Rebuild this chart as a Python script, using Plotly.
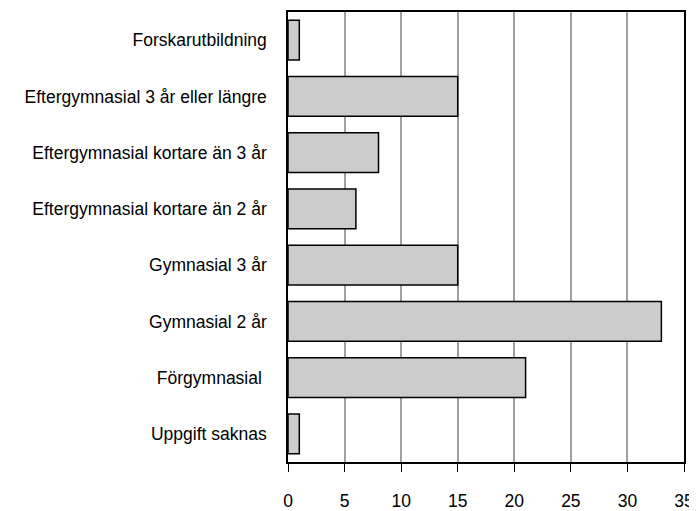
import plotly.graph_objects as go

categories = [
    "Forskarutbildning",
    "Eftergymnasial 3 år eller längre",
    "Eftergymnasial kortare än 3 år",
    "Eftergymnasial kortare än 2 år",
    "Gymnasial 3 år",
    "Gymnasial 2 år",
    "Förgymnasial ",
    "Uppgift saknas",
]
values = [1, 15, 8, 6, 15, 33, 21, 1]
x_ticks = [0, 5, 10, 15, 20, 25, 30, 35]

FONT = "Liberation Sans, Arial, sans-serif"

fig = go.Figure(
    go.Bar(
        x=values,
        y=categories,
        orientation="h",
        marker=dict(color="#cccccc", line=dict(color="#000000", width=1.5)),
        width=0.71,
    )
)

# the page adds an 8px body margin, so the figure is sized to fit the window
fig.update_layout(
    width=689,
    height=503,
    margin=dict(l=280, r=13, t=4, b=49),
    paper_bgcolor="white",
    plot_bgcolor="white",
    font=dict(family=FONT, size=17.5, color="#000000"),
    showlegend=False,
    xaxis=dict(
        range=[0, 35],
        tickvals=x_ticks,
        ticks="outside",
        ticklen=8,
        tickwidth=1,
        tickcolor="#000000",
        showgrid=True,
        gridcolor="#a0a0a0",
        gridwidth=1.5,
        showline=True,
        linecolor="#000000",
        linewidth=1.5,
        mirror=True,
        zeroline=False,
        ticklabelstandoff=14,
        automargin=False,
        fixedrange=True,
    ),
    yaxis=dict(
        autorange="reversed",
        showline=True,
        linecolor="#000000",
        linewidth=1.5,
        mirror=True,
        ticks="",
        ticklabelstandoff=16,
        showgrid=False,
        automargin=False,
        fixedrange=True,
    ),
)

fig.write_html("out.html")
